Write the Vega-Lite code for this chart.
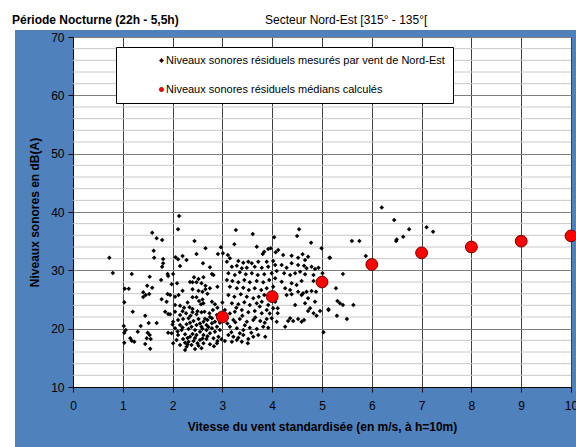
{
  "$schema": "https://vega.github.io/schema/vega-lite/v6.json",
  "width": 498,
  "height": 350,
  "autosize": {"type": "none"},
  "padding": {"left": 73, "top": 37, "right": 5, "bottom": 60},
  "background": "#4F81BD",
  "config": {
    "font": "Liberation Sans",
    "view": {"fill": "white", "stroke": "black", "strokeWidth": 1},
    "axis": {
      "labelFont": "Liberation Sans", "labelFontSize": 12, "labelColor": "black",
      "titleFont": "Liberation Sans", "titleFontSize": 12, "titleFontWeight": "bold", "titleColor": "black",
      "domainColor": "black", "tickColor": "black", "tickSize": 5, "labelFlush": false
    }
  },
  "datasets": {
    "mesures": [
      {"v":1.59,"db":36.46},{"v":1.68,"db":35.49},{"v":1.79,"db":35.2},{"v":1.62,"db":33.37},{"v":1.63,"db":32.17},{"v":1.81,"db":31.95},{"v":1.81,"db":31.21},{"v":1.79,"db":30.63},{"v":0.73,"db":32.17},{"v":0.8,"db":29.55},{"v":1.18,"db":29.38},{"v":1.9,"db":29.38},{"v":1.91,"db":29.03},{"v":1.54,"db":28.91},{"v":1.77,"db":28.35},{"v":1.04,"db":26.86},{"v":1.12,"db":26.86},{"v":1.49,"db":27.37},{"v":1.59,"db":27.03},{"v":1.41,"db":26.24},{"v":1.46,"db":25.78},{"v":1.53,"db":25.95},{"v":1.41,"db":25.43},{"v":1.9,"db":25.95},{"v":1.03,"db":24.52},{"v":1.78,"db":25.04},{"v":1.88,"db":24.63},{"v":1.2,"db":22.91},{"v":1.85,"db":22.91},{"v":1.91,"db":22.52},{"v":1.45,"db":22.23},{"v":1.68,"db":20.97},{"v":1.52,"db":20.97},{"v":1.36,"db":20.46},{"v":1.02,"db":20.46},{"v":1.06,"db":19.77},{"v":1.03,"db":19.31},{"v":1.3,"db":19.48},{"v":1.5,"db":19.31},{"v":1.54,"db":18.92},{"v":1.48,"db":18.35},{"v":1.56,"db":18.23},{"v":1.15,"db":18.35},{"v":1.18,"db":17.94},{"v":1.23,"db":17.77},{"v":1.03,"db":17.6},{"v":1.45,"db":17.37},{"v":1.55,"db":16.57},{"v":1.91,"db":19.31},
      {"v":2.13,"db":39.32},{"v":2.11,"db":37.04},{"v":2.44,"db":35.03},{"v":2.66,"db":33.78},{"v":2.97,"db":33.95},{"v":2.48,"db":32.8},{"v":2.91,"db":32.8},{"v":3.01,"db":32.92},{"v":2.06,"db":32.24},{"v":2.11,"db":31.9},{"v":2.2,"db":32.46},{"v":2.28,"db":31.77},{"v":2.15,"db":30.75},{"v":2.61,"db":31.21},{"v":2.75,"db":30.52},{"v":2.79,"db":29.38},{"v":2.82,"db":29.2},{"v":2.01,"db":29.38},{"v":2.43,"db":28.81},{"v":2.52,"db":28.52},{"v":2.62,"db":28.81},{"v":2.4,"db":27.95},{"v":2.48,"db":27.95},{"v":2.58,"db":27.78},{"v":2.66,"db":27.37},{"v":2.75,"db":26.92},{"v":1.98,"db":27.61},{"v":2.09,"db":27.78},{"v":2.4,"db":26.75},{"v":2.52,"db":26.51},{"v":2.6,"db":26.34},{"v":2.66,"db":26.75},{"v":1.95,"db":25.78},{"v":2.05,"db":25.49},{"v":2.12,"db":25.78},{"v":2.4,"db":25.38},{"v":2.48,"db":25.38},{"v":2.53,"db":24.75},{"v":2.62,"db":24.35},{"v":2.57,"db":24.18},{"v":2.79,"db":24.63},{"v":2.85,"db":24.18},{"v":2.05,"db":24.06},{"v":2.15,"db":23.94},{"v":2.23,"db":23.6},{"v":2.34,"db":23.66},{"v":2.4,"db":23.37},{"v":2.58,"db":22.81},{"v":2.64,"db":22.91},{"v":2.74,"db":22.64},{"v":2.81,"db":23.2},{"v":1.95,"db":22.47},{"v":2.15,"db":22.35},{"v":2.27,"db":22.64},{"v":2.36,"db":22.23},{"v":2.48,"db":22.47},{"v":2.7,"db":21.49},{"v":2.79,"db":21.78},{"v":2.89,"db":22.35},
      {"v":2.01,"db":21.2},{"v":2.11,"db":21.49},{"v":2.21,"db":21.66},{"v":2.32,"db":21.78},{"v":2.42,"db":21.32},{"v":2.52,"db":21.66},{"v":2.62,"db":21.2},{"v":2.15,"db":20.63},{"v":2.28,"db":20.75},{"v":2.38,"db":20.34},{"v":2.48,"db":20.63},{"v":2.58,"db":20.34},{"v":2.68,"db":20.63},{"v":2.79,"db":20.92},{"v":2.85,"db":21.2},{"v":2.05,"db":20.06},{"v":2.18,"db":19.77},{"v":2.32,"db":19.95},{"v":2.45,"db":19.77},{"v":2.55,"db":19.48},{"v":2.68,"db":19.77},{"v":2.79,"db":20.06},{"v":2.89,"db":20.34},{"v":1.98,"db":19.21},{"v":2.11,"db":18.92},{"v":2.25,"db":19.04},{"v":2.35,"db":18.63},{"v":2.48,"db":18.92},{"v":2.62,"db":18.92},{"v":2.75,"db":19.21},{"v":2.85,"db":19.48},{"v":2.95,"db":19.77},{"v":2.08,"db":18.06},{"v":2.21,"db":18.23},{"v":2.32,"db":17.77},{"v":2.42,"db":17.89},{"v":2.55,"db":18.06},{"v":2.68,"db":18.23},{"v":2.82,"db":18.35},{"v":2.92,"db":18.63},{"v":2.15,"db":17.2},{"v":2.28,"db":16.91},{"v":2.38,"db":17.2},{"v":2.52,"db":17.08},{"v":2.62,"db":17.49},{"v":2.75,"db":17.32},{"v":2.89,"db":17.49},{"v":2.01,"db":17.49},{"v":2.25,"db":16.35},{"v":2.45,"db":16.52},{"v":2.58,"db":16.64},
      {"v":2.2,"db":20.2},{"v":2.4,"db":19.1},{"v":2.6,"db":20.0},{"v":2.3,"db":18.4},{"v":2.5,"db":17.5},{"v":2.7,"db":18.7},{"v":2.1,"db":19.5},{"v":2.9,"db":17.9},{"v":2.35,"db":21.0},{"v":2.65,"db":21.7},{"v":2.75,"db":22.0},{"v":2.0,"db":20.7},{"v":2.5,"db":23.0},{"v":2.3,"db":24.5},{"v":2.6,"db":25.0},{"v":2.9,"db":23.6},{"v":2.2,"db":26.5},{"v":2.7,"db":26.0},{"v":2.35,"db":28.0},{"v":2.9,"db":27.2},
      {"v":3.05,"db":17.9},{"v":3.1,"db":20.9},{"v":3.18,"db":19.4},{"v":3.26,"db":21.1},{"v":3.35,"db":19.2},{"v":3.45,"db":20.6},{"v":3.05,"db":23.2},{"v":3.15,"db":22.6},{"v":3.28,"db":23.6},{"v":3.4,"db":22.2},{"v":3.58,"db":19.3},{"v":3.66,"db":21.9},{"v":3.75,"db":23.8},{"v":3.85,"db":21.0},{"v":3.95,"db":22.6},{"v":2.95,"db":21.0},{"v":2.98,"db":18.2},{"v":3.0,"db":24.5},{"v":2.25,"db":17.6},{"v":2.45,"db":18.4},{"v":2.55,"db":20.9},{"v":2.72,"db":20.3},{"v":2.83,"db":17.0},{"v":2.6,"db":18.3},{"v":2.4,"db":22.8},{"v":2.2,"db":23.0},{"v":2.05,"db":22.9},{"v":2.3,"db":17.3},
      {"v":3.27,"db":36.92},{"v":3.61,"db":36.23},{"v":3.24,"db":34.47},{"v":3.69,"db":34.06},{"v":4.04,"db":35.67},{"v":3.92,"db":33.66},{"v":3.97,"db":33.78},{"v":3.81,"db":32.8},{"v":3.84,"db":33.2},{"v":4.07,"db":33.1},{"v":4.12,"db":33.49},{"v":3.11,"db":32.63},{"v":3.15,"db":32.07},{"v":3.09,"db":31.48},{"v":3.32,"db":31.6},{"v":3.42,"db":31.31},{"v":3.52,"db":31.48},{"v":3.59,"db":31.21},{"v":3.72,"db":31.48},{"v":3.89,"db":31.48},{"v":4.02,"db":31.6},{"v":3.19,"db":30.63},{"v":3.29,"db":30.8},{"v":3.39,"db":30.35},{"v":3.49,"db":30.46},{"v":3.65,"db":30.63},{"v":3.79,"db":30.46},{"v":3.92,"db":30.63},{"v":4.06,"db":30.92},{"v":3.12,"db":29.49},{"v":3.25,"db":29.2},{"v":3.35,"db":29.67},{"v":3.47,"db":29.32},{"v":3.59,"db":29.49},{"v":3.71,"db":29.2},{"v":3.84,"db":29.32},{"v":3.99,"db":29.49},{"v":4.09,"db":29.89},{"v":3.09,"db":28.35},{"v":3.2,"db":28.18},{"v":3.32,"db":27.95},{"v":3.44,"db":28.35},{"v":3.55,"db":27.95},{"v":3.69,"db":28.18},{"v":3.82,"db":27.95},{"v":3.94,"db":28.35},{"v":4.06,"db":28.64},{"v":3.15,"db":27.2},{"v":3.29,"db":26.92},{"v":3.42,"db":27.03},{"v":3.53,"db":26.63},{"v":3.65,"db":26.92},{"v":3.78,"db":26.63},{"v":3.89,"db":26.92},{"v":4.02,"db":27.2},{"v":3.12,"db":25.78},{"v":3.24,"db":25.49},{"v":3.37,"db":25.9},{"v":3.49,"db":25.49},{"v":3.62,"db":25.21},{"v":3.73,"db":25.49},{"v":3.84,"db":25.78},{"v":3.19,"db":24.35},{"v":3.32,"db":24.18},{"v":3.44,"db":24.52},{"v":3.55,"db":24.06},{"v":3.69,"db":24.35},{"v":3.79,"db":24.63},{"v":3.92,"db":24.06},{"v":4.06,"db":24.63},{"v":3.25,"db":22.91},{"v":3.39,"db":23.2},{"v":3.52,"db":22.81},{"v":3.65,"db":23.03},{"v":3.79,"db":22.64},{"v":3.89,"db":23.2},{"v":4.02,"db":23.49},{"v":3.09,"db":21.78},{"v":3.22,"db":21.49},{"v":3.35,"db":21.66},{"v":3.49,"db":21.2},{"v":3.62,"db":21.49},{"v":3.76,"db":21.32},{"v":3.89,"db":21.66},{"v":3.99,"db":21.78},{"v":4.09,"db":21.2},{"v":3.15,"db":20.34},{"v":3.29,"db":20.06},{"v":3.42,"db":19.77},{"v":3.55,"db":20.17},{"v":3.69,"db":19.95},{"v":3.82,"db":20.34},{"v":3.92,"db":20.17},{"v":3.12,"db":18.92},{"v":3.22,"db":18.63},{"v":3.32,"db":18.46},{"v":3.42,"db":18.92},{"v":3.52,"db":18.23},{"v":3.62,"db":18.63},{"v":3.72,"db":18.92},{"v":3.86,"db":18.63},{"v":3.19,"db":17.77},{"v":3.29,"db":18.06},{"v":3.39,"db":17.77},{"v":3.51,"db":17.49},{"v":4.11,"db":23.49},{"v":4.11,"db":22.64},
      {"v":4.54,"db":37.04},{"v":4.5,"db":35.89},{"v":4.78,"db":34.74},{"v":4.99,"db":33.78},{"v":5.15,"db":32.17},{"v":4.22,"db":32.63},{"v":4.39,"db":32.51},{"v":4.52,"db":32.17},{"v":4.61,"db":32.75},{"v":4.66,"db":31.77},{"v":4.72,"db":32.34},{"v":4.19,"db":30.92},{"v":4.29,"db":30.46},{"v":4.39,"db":31.21},{"v":4.52,"db":30.92},{"v":4.64,"db":30.8},{"v":4.69,"db":30.35},{"v":4.79,"db":30.63},{"v":4.86,"db":30.23},{"v":4.93,"db":30.46},{"v":4.24,"db":29.49},{"v":4.36,"db":29.2},{"v":4.46,"db":29.49},{"v":4.56,"db":29.77},{"v":4.66,"db":29.32},{"v":4.83,"db":29.2},{"v":5.01,"db":29.49},{"v":4.19,"db":28.06},{"v":4.39,"db":27.78},{"v":4.49,"db":27.49},{"v":4.59,"db":28.18},{"v":4.83,"db":28.18},{"v":4.26,"db":26.92},{"v":4.36,"db":26.63},{"v":4.52,"db":26.34},{"v":4.62,"db":26.06},{"v":4.69,"db":26.34},{"v":4.79,"db":26.46},{"v":4.88,"db":26.34},{"v":4.29,"db":25.78},{"v":4.39,"db":25.9},{"v":4.59,"db":25.78},{"v":4.72,"db":25.21},{"v":4.86,"db":24.63},{"v":4.46,"db":24.06},{"v":4.66,"db":24.35},{"v":4.76,"db":23.49},{"v":4.96,"db":23.03},{"v":5.13,"db":23.2},{"v":4.72,"db":23.03},{"v":4.83,"db":22.64},{"v":4.89,"db":22.23},{"v":4.36,"db":21.78},{"v":4.42,"db":21.32},{"v":4.52,"db":21.66},{"v":4.59,"db":21.2},{"v":4.64,"db":21.49},{"v":4.32,"db":21.32},{"v":4.26,"db":20.34},{"v":5.03,"db":19.38},
      {"v":5.6,"db":35.03},{"v":5.75,"db":35.03},{"v":5.88,"db":32.46},{"v":5.16,"db":32.17},{"v":5.42,"db":29.38},{"v":5.28,"db":26.92},{"v":5.31,"db":24.75},{"v":5.36,"db":24.35},{"v":5.42,"db":24.06},{"v":5.63,"db":24.06},{"v":5.3,"db":22.23},{"v":5.5,"db":21.66},{"v":5.13,"db":23.32},
      {"v":6.2,"db":40.78},{"v":6.45,"db":38.63},{"v":6.75,"db":37.04},{"v":6.63,"db":35.77},{"v":6.49,"db":35.03},{"v":6.5,"db":35.29},{"v":7.1,"db":37.38},{"v":7.23,"db":36.63}
    ],
    "medians": [
      {"v":3,"db":22.0},{"v":4,"db":25.5},{"v":5,"db":28.0},{"v":6,"db":31.0},{"v":7,"db":33.0},{"v":8,"db":34.0},{"v":9,"db":35.0},{"v":10,"db":35.9}
    ],
    "minor": [
      {"g":12},{"g":14},{"g":16},{"g":18},{"g":22},{"g":24},{"g":26},{"g":28},{"g":32},{"g":34},{"g":36},{"g":38},{"g":42},{"g":44},{"g":46},{"g":48},{"g":52},{"g":54},{"g":56},{"g":58},{"g":62},{"g":64},{"g":66},{"g":68}
    ]
  },
  "layer": [
    {
      "data": {"name": "minor"},
      "mark": {"type": "rule", "color": "#c8c8c8", "strokeWidth": 1},
      "encoding": {
        "y": {"field": "g", "type": "quantitative", "scale": {"domain": [10, 70], "nice": false, "zero": false},
          "axis": {"title": "Niveaux sonores en dB(A)", "values": [10,20,30,40,50,60,70], "grid": true, "gridColor": "#808080", "gridOpacity": 1, "labelPadding": 4, "titlePadding": 9}}
      }
    },
    {
      "data": {"name": "mesures"},
      "mark": {"type": "point", "filled": true, "size": 20, "opacity": 1},
      "encoding": {
        "x": {"field": "v", "type": "quantitative", "scale": {"domain": [0, 10], "nice": false, "zero": false},
          "axis": {"title": "Vitesse du vent standardisée (en m/s, à h=10m)", "values": [0,1,2,3,4,5,6,7,8,9,10], "grid": true, "gridColor": "#404040", "gridOpacity": 1, "labelPadding": 8, "titlePadding": 10}},
        "y": {"field": "db", "type": "quantitative", "scale": {"domain": [10, 70], "nice": false, "zero": false}},
        "color": {"datum": "Niveaux sonores résiduels mesurés par vent de Nord-Est", "type": "nominal",
          "scale": {"domain": ["Niveaux sonores résiduels mesurés par vent de Nord-Est", "Niveaux sonores résiduels médians calculés"], "range": ["black", "#FF0000"]},
          "legend": {"orient": "none", "legendX": 43, "legendY": 10, "title": null, "fillColor": "white", "strokeColor": "black", "padding": 8, "symbolOffset": 32, "labelFontSize": 11, "labelFont": "Liberation Sans", "labelColor": "black", "rowPadding": 17, "symbolSize": 20, "labelOffset": -1, "labelLimit": 0, "symbolStrokeColor": "#600000", "symbolStrokeWidth": 0.5}},
        "shape": {"datum": "Niveaux sonores résiduels mesurés par vent de Nord-Est", "type": "nominal",
          "scale": {"domain": ["Niveaux sonores résiduels mesurés par vent de Nord-Est", "Niveaux sonores résiduels médians calculés"], "range": ["diamond", "circle"]}}
      }
    },
    {
      "data": {"name": "medians"},
      "mark": {"type": "point", "filled": true, "size": 140, "stroke": "#700000", "strokeWidth": 1, "opacity": 1},
      "encoding": {
        "x": {"field": "v", "type": "quantitative", "scale": {"domain": [0, 10], "nice": false, "zero": false}},
        "y": {"field": "db", "type": "quantitative", "scale": {"domain": [10, 70], "nice": false, "zero": false}},
        "color": {"datum": "Niveaux sonores résiduels médians calculés", "type": "nominal"},
        "shape": {"datum": "Niveaux sonores résiduels médians calculés", "type": "nominal"}
      }
    },
    {
      "data": {"values": [{}]},
      "mark": {"type": "rect", "color": "white", "clip": false},
      "encoding": {
        "x": {"datum": -1.6, "type": "quantitative"}, "x2": {"datum": 10.3},
        "y": {"datum": 71.2, "type": "quantitative"}, "y2": {"datum": 78}
      }
    },
    {
      "data": {"values": [{}]},
      "mark": {"type": "rect", "color": "white", "clip": false},
      "encoding": {
        "x": {"datum": -1.6, "type": "quantitative"}, "x2": {"datum": -1.165},
        "y": {"datum": -2, "type": "quantitative"}, "y2": {"datum": 78}
      }
    },
    {
      "data": {"values": [{}]},
      "mark": {"type": "text", "text": "Période Nocturne (22h - 5,5h)", "align": "left", "baseline": "alphabetic", "fontSize": 12, "fontWeight": "bold", "font": "Liberation Sans", "color": "black", "clip": false},
      "encoding": {
        "x": {"datum": -1.225, "type": "quantitative"},
        "y": {"datum": 72.2, "type": "quantitative"}
      }
    },
    {
      "data": {"values": [{}]},
      "mark": {"type": "text", "text": "Secteur Nord-Est [315° - 135°[", "align": "left", "baseline": "alphabetic", "fontSize": 12, "font": "Liberation Sans", "color": "black", "clip": false},
      "encoding": {
        "x": {"datum": 3.855, "type": "quantitative"},
        "y": {"datum": 72.2, "type": "quantitative"}
      }
    }
  ]
}
